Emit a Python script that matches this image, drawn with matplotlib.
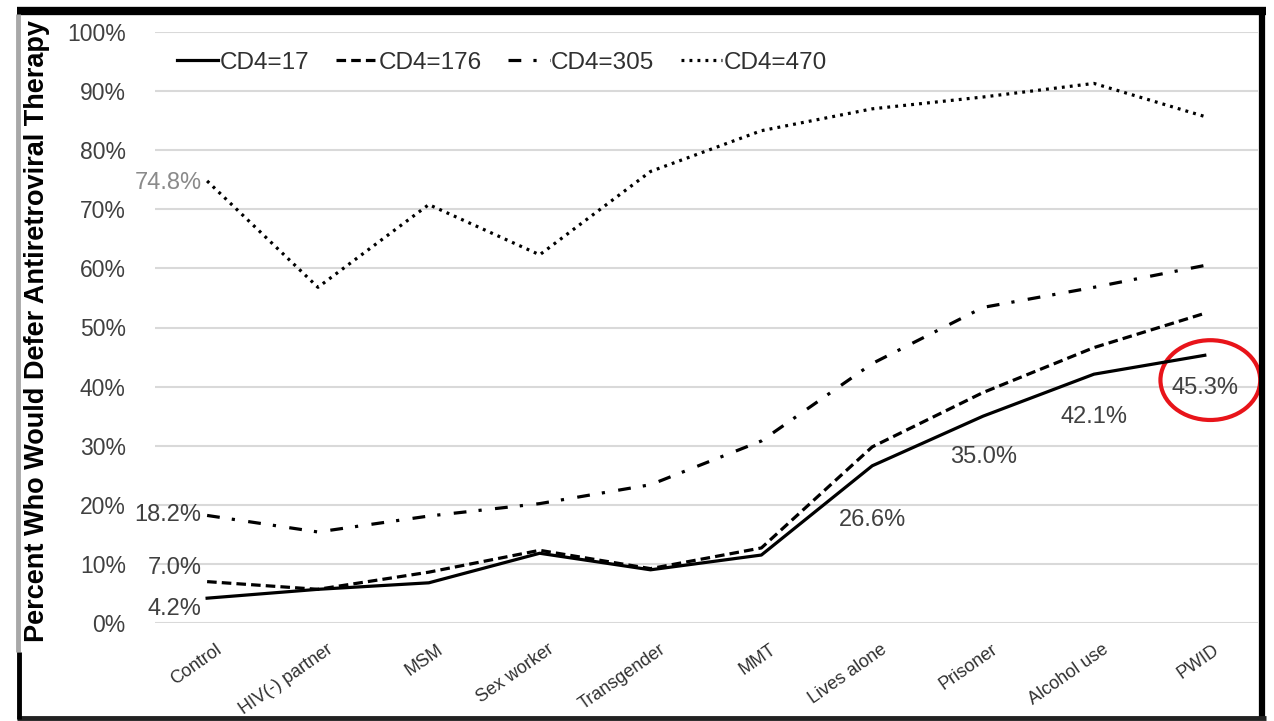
import matplotlib
matplotlib.use("Agg")
import matplotlib.pyplot as plt
from matplotlib.patches import Ellipse
from matplotlib.lines import Line2D
from matplotlib.ticker import FuncFormatter
from matplotlib.transforms import ScaledTranslation

categories = ["Control", "HIV(-) partner", "MSM", "Sex worker", "Transgender",
              "MMT", "Lives alone", "Prisoner", "Alcohol use", "PWID"]
cd4_17 = [4.2, 5.7, 6.8, 11.8, 9.0, 11.5, 26.6, 35.0, 42.1, 45.3]
cd4_176 = [7.0, 5.7, 8.6, 12.3, 9.2, 12.7, 29.8, 39.0, 46.6, 52.4]
cd4_305 = [18.2, 15.4, 18.1, 20.2, 23.4, 30.8, 43.9, 53.4, 56.8, 60.5]
cd4_470 = [74.8, 56.8, 70.8, 62.3, 76.4, 83.3, 87.0, 89.0, 91.3, 85.7]
series_names = ["CD4=17", "CD4=176", "CD4=305", "CD4=470"]
yticks = [0, 10, 20, 30, 40, 50, 60, 70, 80, 90, 100]

plt.rcParams['font.family'] = ['Liberation Sans', 'DejaVu Sans']

W, H = 1274, 721
fig = plt.figure(figsize=(W/100, H/100), dpi=100)
fig.patch.set_facecolor('white')
ax = fig.add_axes([155/W, 1-623/H, (1258-155)/W, (623-32)/H])

x = list(range(len(categories)))
lw = 2.3
ax.plot(x, cd4_17, color='black', lw=lw, ls='-', label=series_names[0])
ax.plot(x, cd4_176, color='black', lw=lw, ls=(0, (3, 1.6)), label=series_names[1])
ax.plot(x, cd4_305, color='black', lw=lw, ls=(0, (4, 3.8, 1, 4.2)), label=series_names[2])
ax.plot(x, cd4_470, color='black', lw=lw, ls=(0, (0.9, 1.6)), label=series_names[3])

ax.set_xlim(-0.47, 9.48)
ax.set_ylim(0, 100)
ax.set_yticks(yticks)
ax.yaxis.set_major_formatter(FuncFormatter(lambda v, p: f"{int(v)}%"))
ax.grid(axis='y', color='#d9d9d9', lw=1.5)
ax.set_axisbelow(True)
for s in ax.spines.values():
    s.set_visible(False)
ax.tick_params(axis='y', length=0, pad=21, labelsize=16.5, labelcolor='#404040')
ax.tick_params(axis='x', length=0, pad=13, labelsize=13, labelcolor='#303030')
ax.set_xticks(x)
ax.set_xticklabels(categories, rotation=35, ha='right', rotation_mode='anchor')
off = ScaledTranslation(0.08, 0, fig.dpi_scale_trans)
for lab in ax.get_xticklabels():
    lab.set_transform(lab.get_transform() + off)

# data labels
tc = '#404040'
fs = 17
ax.text(-0.05, cd4_470[0] - 0.3, f"{cd4_470[0]:.1f}%", ha='right', va='center', fontsize=fs, color='#8a8a8a')
ax.text(-0.05, cd4_305[0], f"{cd4_305[0]:.1f}%", ha='right', va='center', fontsize=fs, color=tc)
ax.text(-0.05, cd4_176[0] + 2.3, f"{cd4_176[0]:.1f}%", ha='right', va='center', fontsize=fs, color=tc)
ax.text(-0.05, cd4_17[0] - 1.8, f"{cd4_17[0]:.1f}%", ha='right', va='center', fontsize=fs, color=tc)
for i, dy in [(6, -9.2), (7, -6.9), (8, -7.2), (9, -5.5)]:
    ax.text(x[i], cd4_17[i] + dy, f"{cd4_17[i]:.1f}%", ha='center', va='center',
            fontsize=fs, color=tc)
ax.add_patch(Ellipse((9.05, 41.1), 0.90, 13.5, fill=False, edgecolor='#e8141a', lw=3, clip_on=False))

leg = ax.legend(loc='center left', bbox_to_anchor=(0.02, 0.948), ncol=4, frameon=False,
                fontsize=17.5, handlelength=1.7, handletextpad=0.05, columnspacing=1.1,
                labelcolor='#303030', borderaxespad=0, borderpad=0)

ax.set_ylabel("Percent Who Would Defer Antiretroviral Therapy", fontsize=19.5,
              fontweight='bold', color='black')
ax.yaxis.set_label_coords(-105/(1258-155), 0.494)

# outer frame (scanned border)
def fl(x0, y0, x1, y1, c, w):
    fig.add_artist(Line2D([x0/W, x1/W], [1-y0/H, 1-y1/H], transform=fig.transFigure,
                          color=c, lw=w, solid_capstyle='butt'))

fl(17, 11, 1266, 11, 'black', 6)
fl(1262, 8, 1262, 719, 'black', 4.5)
fl(17, 718, 1266, 718, '#222222', 3.5)
fl(18, 14, 18, 652, '#a8a8a8', 3.5)
fl(19, 652, 19, 719, 'black', 3.5)

fig.savefig("out.png", dpi=100)
